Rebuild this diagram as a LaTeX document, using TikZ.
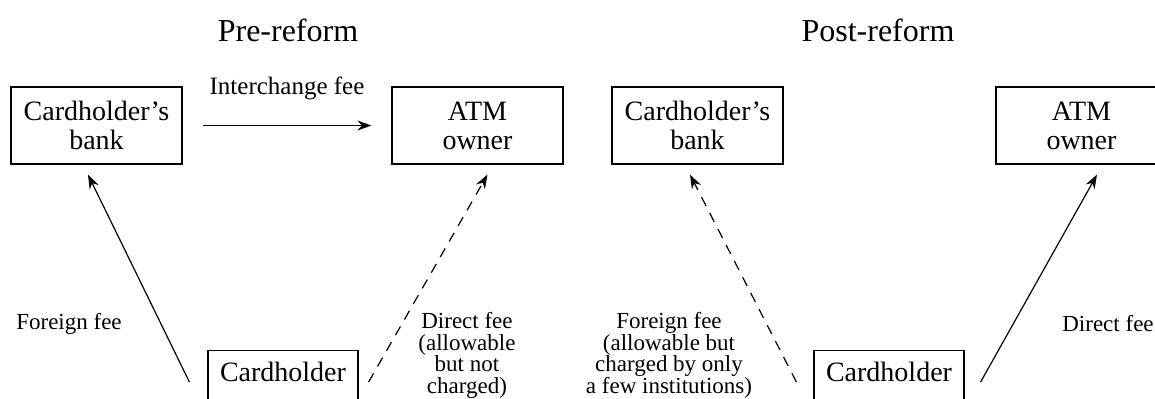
\documentclass[tikz,border=0pt]{standalone}
\usepackage{fontspec}
\setmainfont{Liberation Serif}
\usetikzlibrary{arrows.meta}

\begin{document}
\begin{tikzpicture}[x=0.5pt, y=-0.5pt,
    party/.style={draw, line width=0.6pt, minimum width=85.5pt, minimum height=38.5pt,
      align=center, inner sep=0pt, font=\fontsize{14}{14.5}\selectfont},
    holder/.style={draw, line width=0.6pt, anchor=north, minimum width=75pt, inner xsep=0pt,
      inner ysep=3pt, text height=12.5pt, text depth=30pt, font=\fontsize{14}{14.5}\selectfont},
    fee/.style={align=center, inner sep=0pt, font=\fontsize{11.5}{10.75}\selectfont},
    pay/.style={line width=0.6pt, -{Stealth[length=7pt, width=5pt]}},
    nopay/.style={pay, dash pattern=on 5pt off 4pt},
    title/.style={font=\fontsize{16}{18}\selectfont}]
  \useasboundingbox (0,0) rectangle (1155,398);
  \clip (0,0) rectangle (1155,398);

  % pre-reform
  \node[title] (pre) at (288,30) {Pre-reform};
  \node[party] (bankL) at (96.5,125.5) {Cardholder’s\\bank};
  \node[party] (atmL) at (477.5,125.5) {ATM\\owner};
  \node[holder] (holderL) at (283,350) {Cardholder};
  \node[fee, font=\fontsize{12.5}{13}\selectfont] (inter) at (287,88) {Interchange fee};
  \node[fee] (foreignL) at (69,324) {Foreign fee};
  \node[fee, anchor=north] (directL) at (467,312) {Direct fee\\(allowable\\but not\\charged)};
  \draw[pay] ([xshift=10pt]bankL.east) -- ([xshift=-10pt]atmL.west);
  \draw[pay] ([xshift=-9pt, yshift=-16pt]holderL.north west) -- ([xshift=-4.25pt, yshift=-5pt]bankL.south);
  \draw[nopay] ([xshift=5pt, yshift=-16pt]holderL.north east) -- ([xshift=5pt, yshift=-5pt]atmL.south);

  % post-reform
  \node[title] (post) at (878,30) {Post-reform};
  \node[party] (bankR) at (697.5,125.5) {Cardholder’s\\bank};
  \node[party] (atmR) at (1081.5,125.5) {ATM\\owner};
  \node[holder] (holderR) at (889,350) {Cardholder};
  \node[fee, anchor=north] (foreignR) at (669,312) {Foreign fee\\(allowable but\\charged by only\\a few institutions)};
  \node[fee] (directR) at (1108,324) {Direct fee};
  \draw[nopay] ([xshift=-8.5pt, yshift=-16pt]holderR.north west) -- ([xshift=-3.75pt, yshift=-5pt]bankR.south);
  \draw[pay] ([xshift=8pt, yshift=-16pt]holderR.north east) -- ([xshift=7.75pt, yshift=-5pt]atmR.south);
\end{tikzpicture}
\end{document}
